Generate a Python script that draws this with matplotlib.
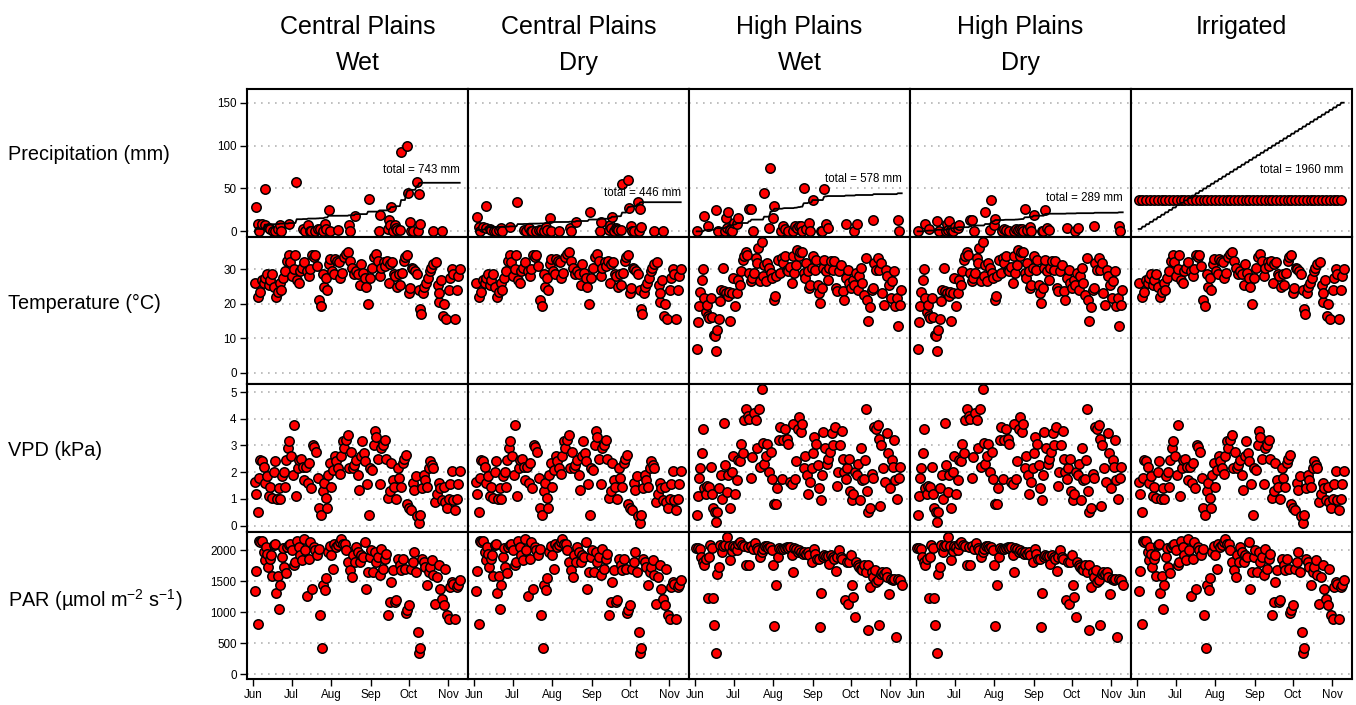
import numpy as np
import matplotlib
matplotlib.use("Agg")
import matplotlib.pyplot as plt

plt.rcParams['font.family'] = ['Liberation Sans', 'DejaVu Sans']
plt.rcParams['mathtext.fontset'] = 'custom'
plt.rcParams['mathtext.rm'] = 'Liberation Sans'
plt.rcParams['mathtext.it'] = 'Liberation Sans:italic'

# x axis: days counted from 1 June
month_days = [0, 30, 61, 92, 122, 153]
month_labels = ['Jun', 'Jul', 'Aug', 'Sep', 'Oct', 'Nov']

col_titles = ['Central Plains\nWet', 'Central Plains\nDry', 'High Plains\nWet',
              'High Plains\nDry', 'Irrigated']
row_labels = ['Precipitation (mm)', 'Temperature (°C)', 'VPD (kPa)',
              'PAR (µmol m$^{-2}$ s$^{-1}$)']
total_labels = [743, 446, 578, 289, 1960]

# ---------------- Central Plains weather ----------------
cp_rain_day = [2.3, 3.4, 4.7, 6.8, 8.9, 9.4, 12.0, 13.3, 15.4, 17.3, 19.1, 20.6, 21.7, 27.7,
               33.5, 38.7, 40.8, 42.6, 44.2, 45.5, 48.6, 50.5, 52.5, 54.6, 56.5, 57.3, 59.1,
               60.4, 66.1, 75.3, 76.1, 80.0, 90.4, 98.3, 99.1, 105.6, 106.1, 107.4, 108.0,
               109.3, 110.8, 111.6, 112.7, 115.3, 116.1, 120.3, 121.3, 123.1, 123.7, 125.7,
               128.4, 128.9, 130.2, 131.2, 141.4, 148.0]
cp_rain = [28.5, 9, 0, 9, 49, 7, 4, 2.3, 0, 0, 3, 7, 0, 8, 58, 3, 0, 7, 0, 0, 0, 2.3, 3, 0,
           9, 3, 25, 0, 1, 7, 0, 17.6, 38, 0, 18.7, 2.3, 13, 7, 28.5, 0, 7, 4, 2, 2, 92, 99,
           45, 11, 0, 0, 57, 0, 43, 8, 0, 0]

cp_temp_day = [1.6, 3.4, 5.0, 6.8, 8.1, 9.4, 10.7, 12.0, 13.3, 14.6, 15.9, 18.0, 19.1, 20.6,
               21.7, 23.3, 25.1, 26.4, 27.7, 29.0, 30.3, 31.6, 32.9, 34.2, 35.6, 36.9, 38.2,
               40.0, 42.1, 43.4, 44.7, 46.0, 47.3, 48.6, 49.9, 51.5, 53.1, 54.6, 55.7, 56.7,
               57.8, 59.1, 60.4, 61.7, 63.0, 64.3, 65.6, 66.9, 68.2, 69.5, 70.8, 72.7, 74.2,
               75.5, 77.4, 78.7, 80.5, 81.8, 83.4, 84.7, 86.0, 87.3, 88.6, 89.7, 91.2, 93.1,
               94.4, 96.2, 97.5, 99.1, 100.4, 102.2, 103.5, 104.8, 106.1, 107.4, 108.7, 110.1,
               111.4, 112.7, 114.0, 115.3, 116.6, 117.9, 119.2, 120.5, 121.8, 123.1, 124.4,
               125.7, 127.1, 128.4, 129.7, 130.5, 131.5, 132.8, 134.1, 135.7, 137.0, 138.3,
               139.6, 141.4, 143.0, 144.6, 145.4, 146.1, 147.2, 148.8, 149.8, 151.4, 153.2,
               154.5, 155.8, 157.1, 158.4, 159.7, 161.0, 162.3]
cp_temp = [26, 22, 23.5, 27, 26, 27.5, 28.5, 25.5, 27, 28.5, 25, 22, 23.5, 26, 24, 27.5, 29.5,
           32.5, 34, 32, 28, 30, 34, 27, 26, 29.5, 30.5, 32, 29.5, 28, 30, 34, 33.5, 34, 31, 21,
           19.5, 28.5, 25, 27.5, 24, 31.5, 33, 29.5, 28.5, 33, 32.5, 32, 27.5, 29, 33.5, 34.5,
           35, 32.5, 30.5, 28.5, 29.5, 28.5, 25.5, 31.5, 29, 27.5, 25, 20, 27.5, 30.5, 33.5,
           34.5, 32.5, 28, 30.5, 32, 31, 32.5, 26, 31.5, 32, 28.5, 28, 25, 28.5, 25.5, 29, 32.5,
           33.5, 34, 23, 24.5, 30.5, 30, 29.5, 28.5, 24, 18.5, 17, 23, 25, 26, 27.5, 29.5, 30.5,
           31.5, 32, 25.5, 20.5, 23, 27, 16.5, 20, 15.5, 24, 27.5, 30, 28.5, 15.5, 24, 28, 30]

cp_vpd_day = [1.6, 2.4, 3.4, 4.7, 5.5, 6.8, 8.1, 9.4, 10.7, 12.0, 13.3, 14.6, 15.9, 17.3, 18.6,
              19.9, 21.2, 22.5, 23.8, 25.1, 25.9, 26.9, 28.2, 29.5, 30.8, 32.1, 33.5, 34.8,
              36.1, 37.4, 38.7, 40.0, 41.6, 42.6, 43.9, 45.5, 46.5, 47.8, 49.4, 50.7, 51.8,
              53.1, 54.4, 55.7, 56.7, 57.8, 58.6, 59.9, 61.2, 62.5, 63.8, 65.1, 66.4, 67.7,
              69.0, 70.1, 71.4, 72.4, 74.0, 75.3, 76.6, 77.9, 79.2, 80.5, 81.8, 83.1, 84.4,
              85.5, 86.5, 87.8, 89.1, 90.4, 91.8, 93.1, 94.4, 95.2, 96.5, 97.8, 99.1, 100.4,
              101.7, 103.0, 104.3, 105.6, 106.9, 108.2, 109.3, 110.6, 111.9, 113.2, 114.5,
              115.8, 117.1, 118.4, 119.7, 121.0, 122.3, 123.7, 125.0, 126.3, 127.3, 128.6,
              129.7, 130.9, 132.3, 133.6, 134.9, 136.2, 137.5, 138.8, 140.1, 141.4, 142.7,
              144.0, 145.4, 146.7, 148.0, 149.3, 150.6, 151.9, 153.2, 154.5, 155.8, 157.1,
              158.4, 159.7, 161.0, 162.3]
cp_vpd = [1.65, 1.2, 0.5, 1.8, 2.45, 2.4, 2.2, 1.6, 1.85, 1.1, 1.45, 1.05, 2.0, 2.4, 1.0, 1.4,
          1.0, 1.85, 2.0, 1.45, 2.45, 2.9, 3.15, 2.6, 1.9, 3.75, 1.1, 2.15, 2.45, 2.5, 2.2, 1.7,
          2.2, 1.6, 2.35, 1.4, 3.0, 2.95, 2.75, 1.8, 0.65, 0.4, 1.3, 1.6, 1.05, 0.65, 1.9, 2.35,
          1.45, 2.1, 2.6, 2.4, 2.15, 1.95, 2.6, 3.15, 2.9, 3.2, 3.4, 2.15, 2.75, 2.15, 2.25,
          2.45, 1.9, 1.35, 2.6, 3.15, 2.7, 2.4, 1.55, 0.4, 2.15, 2.1, 3.0, 3.55, 3.3, 2.5, 1.55,
          2.9, 3.0, 3.2, 2.5, 1.05, 1.3, 2.35, 1.7, 1.45, 1.0, 2.15, 1.8, 1.45, 2.35, 2.5, 2.65,
          0.8, 0.65, 0.6, 1.6, 1.35, 1.85, 0.35, 0.1, 0.4, 1.4, 1.9, 1.7, 1.45, 2.15, 2.4, 2.25,
          2.15, 0.9, 1.2, 1.6, 1.4, 0.95, 1.45, 0.9, 0.65, 1.0, 1.55, 2.05, 0.95, 0.6, 1.0, 1.55,
          2.05]

cp_par_day = [1.6, 2.4, 3.4, 4.2, 5.5, 6.8, 8.1, 8.9, 9.9, 10.7, 11.5, 12.8, 13.9, 14.9, 15.9,
              17.3, 18.0, 19.1, 20.1, 21.2, 22.2, 23.3, 24.3, 25.4, 26.4, 27.7, 29.0, 30.3,
              31.6, 32.9, 34.2, 35.6, 36.9, 38.2, 39.5, 40.8, 42.1, 43.4, 44.7, 46.0, 47.3,
              48.6, 49.9, 51.2, 52.5, 53.8, 54.9, 55.9, 57.3, 58.6, 59.9, 60.9, 62.2, 63.5,
              64.8, 66.1, 67.7, 69.0, 70.3, 71.6, 72.9, 74.2, 76.1, 77.4, 78.2, 79.5, 80.8,
              81.8, 83.4, 84.7, 86.0, 87.3, 88.6, 89.9, 91.2, 92.3, 93.9, 95.2, 96.5, 97.8,
              99.1, 100.4, 101.7, 103.0, 104.3, 105.6, 106.9, 108.2, 109.5, 110.8, 112.1,
              113.5, 114.8, 116.1, 117.4, 118.7, 120.0, 121.0, 122.3, 123.7, 125.0, 126.3,
              127.6, 128.9, 129.7, 130.9, 132.3, 133.6, 134.9, 136.2, 137.5, 138.8, 140.1,
              141.4, 142.7, 144.0, 145.4, 146.7, 148.0, 149.3, 150.6, 151.9, 153.2, 154.5,
              155.8, 157.1, 158.4, 159.7, 161.0, 162.3]
cp_par = [1345, 1665, 815, 2160, 2135, 2160, 1975, 1850, 2055, 1945, 1730, 1865, 1920, 1580,
          2080, 2105, 1310, 1580, 1060, 1445, 1890, 2040, 1730, 1635, 2055, 2080, 2105, 2000,
          1760, 1815, 2160, 2055, 1920, 1840, 2190, 2000, 1270, 1865, 2135, 1380, 2055, 2000,
          1920, 2030, 950, 415, 1435, 1355, 1555, 1975, 2070, 1920, 1705, 2105, 2055, 2095,
          2135, 2190, 2105, 2105, 2000, 1815, 1680, 1570, 1920, 1815, 2055, 1975, 1815, 1920,
          1890, 2135, 1380, 1650, 1890, 2000, 1650, 1975, 1815, 1890, 1595, 2030, 1705, 1865,
          1945, 950, 1165, 1490, 1680, 1165, 1195, 1865, 1760, 1680, 1865, 1705, 980, 1030,
          1110, 1705, 1815, 1975, 1650, 685, 335, 415, 1865, 1815, 1730, 1435, 1650, 1730,
          1840, 1595, 1140, 1570, 1760, 1380, 1220, 1110, 1705, 950, 895, 1405, 1490, 1460,
          895, 1405, 1435, 1515]

# ---------------- High Plains weather ----------------
hp_rain_day = [1.0, 7.0, 10.2, 16.2, 17.5, 23.3, 23.8, 25.1, 25.9, 27.2, 28.5, 30.3, 32.4,
               33.2, 42.4, 43.7, 45.5, 54.1, 58.6, 57.8, 61.2, 62.0, 67.2, 69.0, 70.3, 72.9,
               76.9, 78.2, 79.5, 81.3, 82.9, 83.4, 85.0, 86.5, 89.2, 89.9, 92.0, 98.6, 99.3,
               101.2, 102.5, 104.3, 117.9, 124.7, 126.5, 139.6, 158.7, 159.7]
hp_rain = [0, 18, 6, 25, 0, 0, 16, 4, 23, 2, 0, 10, 8, 15, 26, 26, 0, 44.5, 73.5, 4, 15, 29,
           0, 6, 3, 0, 0, 6, 4, 6, 6, 0, 51, 3, 10, 0, 37, 0, 0, 49, 8, 4, 8, 0, 8, 13, 13, 0]

hp_temp_day = [1.0, 1.8, 2.9, 3.9, 5.0, 5.7, 7.0, 8.1, 9.4, 10.2, 11.0, 12.3, 13.3, 14.6, 15.7,
               16.5, 17.2, 18.6, 19.3, 20.4, 21.7, 22.7, 24.1, 25.4, 26.7, 27.2, 28.5, 29.8,
               31.1, 32.4, 33.7, 35.0, 35.8, 37.1, 38.4, 39.5, 40.8, 42.1, 43.4, 44.7, 46.0,
               47.3, 48.6, 49.4, 50.7, 52.0, 53.1, 54.1, 55.4, 56.5, 57.8, 59.1, 60.4, 61.4,
               62.5, 63.5, 65.1, 66.4, 67.7, 69.0, 70.3, 71.6, 72.9, 74.2, 75.5, 76.9, 77.6,
               79.0, 80.0, 81.3, 82.3, 83.9, 85.0, 86.0, 87.1, 88.1, 89.2, 90.2, 91.2, 92.5,
               93.9, 94.9, 95.9, 97.0, 98.0, 99.1, 99.9, 101.2, 102.5, 103.8, 105.1, 106.4,
               107.7, 109.0, 110.3, 111.4, 112.7, 114.2, 115.6, 116.9, 118.2, 119.5, 120.8,
               122.1, 123.4, 124.7, 126.0, 127.3, 128.6, 129.9, 131.0, 132.3, 133.6, 134.9,
               135.9, 137.0, 138.3, 139.6, 140.4, 141.7, 143.0, 144.0, 145.4, 146.7, 148.0,
               149.3, 150.6, 151.9, 153.2, 154.5, 155.8, 157.1, 158.2, 159.2, 160.3, 161.3]
hp_temp = [6.8, 14.7, 19.5, 23.3, 26.8, 30, 21.7, 17.6, 19.8, 16.4, 15.9, 21.7, 16.2, 10.9,
           10.7, 6.3, 12.4, 15.7, 20.7, 24.1, 30.4, 23.6, 23.1, 22.2, 23.3, 15.0, 23.1, 27.5,
           19.5, 23.1, 27, 25.6, 29.4, 32.8, 33.8, 34.9, 34.2, 28.9, 26.5, 27.5, 28.9, 33.2,
           31.8, 36.1, 26.5, 37.8, 28, 31.3, 26.5, 31.8, 30.4, 28.9, 27.5, 21.2, 22.4, 28, 32.8,
           28.9, 33.2, 31.8, 33.8, 29.9, 29.4, 30.8, 26, 33.8, 28.9, 31.3, 35.6, 33.8, 35.1,
           34.9, 28.9, 27.5, 31.8, 29.4, 24.6, 25.6, 30.4, 33.8, 29.9, 32.8, 25.6, 23, 20.3,
           24.6, 30.4, 32.8, 29.4, 27, 30.4, 32.3, 29.9, 32.3, 24.6, 23.6, 29.4, 31.3, 23.6,
           21.2, 27.5, 29.9, 26, 24.6, 27, 25.6, 28.9, 24.1, 28, 30.4, 26, 22.7, 33.2, 21.2, 15,
           19.1, 24.1, 24.6, 31.8, 29.9, 33.2, 29.9, 31.8, 23.1, 19.8, 29.9, 28, 25.6, 21.7,
           26.5, 29.4, 19.3, 21.7, 13.5, 19.8, 24.1]

hp_vpd_day = [1.0, 1.8, 2.9, 3.9, 5.0, 5.7, 7.0, 8.1, 9.4, 10.7, 12.0, 13.3, 14.1, 15.4, 16.2,
              17.2, 18.6, 19.9, 21.2, 22.2, 23.3, 24.6, 25.9, 27.2, 28.5, 29.8, 31.1, 32.4,
              33.7, 35.0, 35.8, 37.1, 38.4, 39.5, 41.0, 42.1, 43.4, 44.7, 46.0, 47.3, 48.6,
              49.9, 50.7, 52.0, 52.8, 54.1, 55.2, 56.5, 57.8, 59.1, 60.4, 62.0, 63.0, 64.0,
              65.6, 66.7, 68.0, 69.0, 70.3, 71.6, 72.9, 74.2, 75.5, 76.9, 78.2, 79.0, 80.3,
              81.3, 82.6, 83.9, 85.0, 86.0, 87.3, 88.6, 89.9, 91.2, 92.0, 93.3, 94.6, 95.9,
              97.2, 98.6, 99.1, 100.4, 101.7, 103.0, 104.3, 105.9, 106.9, 108.2, 109.5, 110.8,
              112.2, 113.5, 114.8, 115.6, 116.9, 117.9, 119.2, 120.5, 121.6, 122.6, 123.9,
              125.2, 126.5, 127.8, 129.1, 129.9, 131.0, 132.3, 133.1, 133.9, 134.9, 135.9,
              137.0, 138.3, 139.6, 140.6, 141.7, 143.0, 144.0, 145.1, 146.1, 147.4, 148.8,
              150.1, 151.4, 152.7, 154.0, 155.0, 156.1, 157.1, 158.4, 159.5, 160.5]
hp_vpd = [0.4, 1.1, 1.8, 2.15, 2.7, 3.6, 1.4, 1.2, 1.5, 1.45, 2.2, 1.2, 0.65, 0.5, 0.15, 0.5,
          1.4, 1.9, 1.0, 3.85, 2.25, 1.25, 1.9, 0.65, 2.0, 2.6, 1.2, 1.7, 2.45, 2.4, 3.05, 2.7,
          3.95, 4.35, 4.1, 4.0, 1.8, 2.55, 4.2, 3.95, 2.9, 4.35, 2.2, 5.1, 3.1, 2.3, 2.6, 3.05,
          2.0, 2.75, 1.75, 0.8, 0.8, 1.4, 3.2, 3.7, 1.75, 3.2, 3.6, 3.25, 3.05, 1.65, 1.55, 3.8,
          1.75, 2.4, 3.6, 4.05, 3.5, 3.8, 2.15, 2.6, 1.9, 1.2, 1.65, 2.15, 2.7, 3.3, 3.05, 2.25,
          1.4, 0.95, 1.9, 3.5, 2.9, 2.3, 2.5, 2.75, 3.45, 3.0, 3.7, 1.5, 2.0, 3.0, 3.55, 2.5,
          2.0, 1.75, 2.15, 2.5, 1.3, 0.95, 1.2, 2.0, 1.9, 2.3, 0.95, 2.9, 1.7, 1.75, 2.45, 4.35,
          1.3, 0.5, 0.65, 1.95, 1.8, 3.7, 3.6, 3.75, 3.25, 0.75, 3.0, 2.15, 1.65, 3.45, 2.7, 1.4,
          2.45, 2.2, 3.2, 1.7, 1.0, 1.8, 2.2]

hp_par_day = [0.5, 1.8, 3.7, 4.4, 5.8, 7.1, 8.4, 9.7, 11.0, 11.8, 12.8, 13.6, 14.9, 15.9, 17.0,
              18.3, 19.3, 20.6, 21.9, 23.5, 24.8, 26.1, 27.2, 28.5, 29.8, 31.1, 32.4, 33.7,
              35.3, 36.6, 37.9, 39.7, 41.0, 42.3, 43.7, 45.0, 47.1, 48.1, 49.4, 50.7, 52.0,
              53.3, 54.6, 55.9, 57.3, 58.6, 59.9, 61.2, 62.0, 63.3, 64.6, 65.9, 67.2, 68.5,
              70.1, 71.6, 72.9, 74.2, 75.5, 76.3, 77.6, 78.9, 80.3, 81.6, 82.9, 84.2, 85.5,
              86.8, 88.1, 89.4, 91.5, 92.8, 93.9, 95.2, 96.7, 97.8, 98.8, 99.9, 101.2, 102.5,
              103.8, 105.1, 106.4, 107.7, 109.0, 110.3, 111.4, 112.9, 114.2, 115.5, 117.4,
              118.7, 119.7, 120.8, 121.8, 122.9, 123.9, 125.0, 126.0, 127.3, 128.6, 129.9,
              131.2, 132.5, 133.9, 135.2, 135.9, 137.0, 138.3, 139.6, 140.9, 142.2, 143.5,
              144.3, 145.6, 146.9, 148.2, 149.5, 150.8, 152.2, 153.5, 154.8, 156.1, 157.9,
              159.0, 160.5, 162.1]
hp_par = [2040, 2040, 2030, 1890, 1810, 1770, 1865, 1230, 1890, 2080, 2040, 1230, 790, 345,
          1625, 1730, 2080, 1975, 2070, 2080, 2215, 2070, 1850, 1985, 2070, 2055, 2000, 2105,
          2135, 2080, 2070, 1770, 2055, 1770, 2070, 2015, 2125, 2040, 2000, 1890, 1975, 2030,
          2070, 2070, 2040, 2055, 2010, 1760, 780, 1435, 1890, 2040, 2015, 2030, 2040, 2055,
          2040, 2055, 1920, 1650, 2040, 2015, 1975, 2000, 1975, 1945, 1975, 1945, 1975, 1920,
          1810, 2015, 1945, 1865, 1865, 765, 1310, 1890, 1920, 1910, 1910, 1785, 1920, 1890,
          1865, 1660, 1890, 2000, 1890, 1865, 1195, 1810, 1140, 1810, 1920, 1435, 1245, 925,
          1810, 1760, 1730, 1705, 1680, 1760, 1650, 1770, 710, 1410, 1650, 1570, 1680, 1490,
          1515, 790, 1625, 1650, 1625, 1650, 1570, 1300, 1545, 1515, 1545, 600, 1530, 1515,
          1435]

# ---------------- irrigation schedule ----------------
irr_day = list(range(1, 162, 3))
irr_amount = 36.3

dry_factor = {'cp': 0.6, 'hp': 0.5}
line_scale = 150 / 1960  # cumulative curve scaled to the precipitation axis

cp_weather = [(cp_temp_day, cp_temp), (cp_vpd_day, cp_vpd), (cp_par_day, cp_par)]
hp_weather = [(hp_temp_day, hp_temp), (hp_vpd_day, hp_vpd), (hp_par_day, hp_par)]

columns = [
    (cp_rain_day, np.array(cp_rain), cp_weather),
    (cp_rain_day, np.array(cp_rain) * dry_factor['cp'], cp_weather),
    (hp_rain_day, np.array(hp_rain), hp_weather),
    (hp_rain_day, np.array(hp_rain) * dry_factor['hp'], hp_weather),
    (irr_day, np.full(len(irr_day), irr_amount), cp_weather),
]

row_ylim = [(-6, 166), (-3.2, 39.5), (-0.22, 5.3), (-80, 2306)]
row_yticks = [[0, 50, 100, 150], [0, 10, 20, 30], [0, 1, 2, 3, 4, 5],
              [0, 500, 1000, 1500, 2000]]
label_y = [71.5, 44.5, 61, 38.7, 71.5]

W, H = 1356, 705
fig, axes = plt.subplots(4, 5, figsize=(W / 100, H / 100), dpi=100, sharex=True)
fig.subplots_adjust(left=247 / W, right=1352 / W, top=1 - 89 / H, bottom=1 - 679 / H,
                    wspace=0, hspace=0)

pt_kw = dict(marker='o', s=46, facecolor='#ff0000', edgecolor='black', linewidths=1.1,
             zorder=3, clip_on=False)

line_days = np.arange(1, 163)
for j, (rday, rval, weather) in enumerate(columns):
    ax = axes[0, j]
    ax.scatter(rday, rval, **pt_kw)
    daily = np.zeros(len(line_days))
    np.add.at(daily, np.round(rday).astype(int) - 1, rval)
    ax.plot(line_days, np.cumsum(daily) * line_scale, color='black', lw=1.3, zorder=4)
    ax.text(162, label_y[j], 'total = %d mm' % total_labels[j], ha='right', va='center',
            fontsize=8.3, zorder=5)
    for i, (d, v) in enumerate(weather):
        axes[i + 1, j].scatter(d, v, **pt_kw)

for i in range(4):
    for j in range(5):
        ax = axes[i, j]
        ax.set_xlim(-5, 168.5)
        ax.set_ylim(*row_ylim[i])
        ax.set_yticks(row_yticks[i])
        ax.set_xticks(month_days)
        ax.set_xticklabels(month_labels)
        for y in row_yticks[i]:
            ax.axhline(y, color='#b4b4b4', lw=1.2, ls=(0, (1, 3.2)), zorder=1)
        for sp in ax.spines.values():
            sp.set_linewidth(1.5)
        ax.tick_params(axis='both', direction='out', length=5, width=1, labelsize=8.4,
                       pad=2.5)
        ax.tick_params(axis='y', left=(j == 0), labelleft=(j == 0))
        ax.tick_params(axis='x', bottom=(i == 3), labelbottom=(i == 3))

# column titles
for j, title in enumerate(col_titles):
    pos = axes[0, j].get_position()
    cx = (pos.x0 + pos.x1) / 2
    lines = title.split('\n')
    fig.text(cx, 1 - 27 / H, lines[0], ha='center', va='center', fontsize=18)
    if len(lines) > 1:
        fig.text(cx, 1 - 63 / H, lines[1], ha='center', va='center', fontsize=18)

# row labels
for i, lab in enumerate(row_labels):
    fig.text(8 / W, 1 - [155, 303, 451, 600][i] / H, lab, ha='left', va='center',
             fontsize=14.3)

fig.savefig('out.png', dpi=100)
